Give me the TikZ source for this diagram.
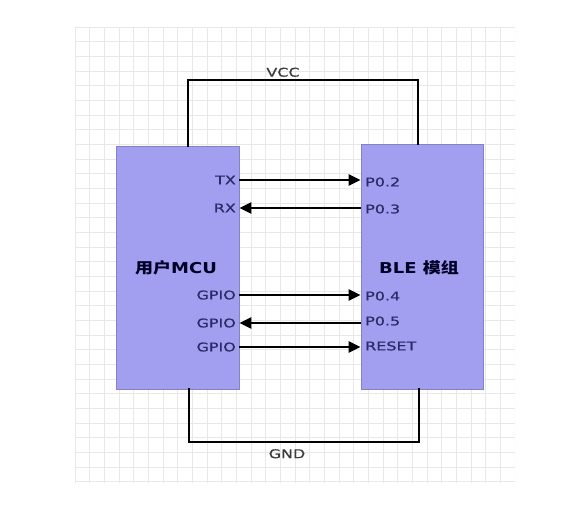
\documentclass[tikz,border=0pt]{standalone}
\usepackage{fontspec}
\setmainfont{DejaVu Sans}[FakeStretch=1.33]
\newfontfamily\pinfont{DejaVu Sans}[FakeStretch=1.33,FakeBold=0.6]
\newfontfamily\titlefont{DejaVu Sans}[FakeStretch=1.2]
\newfontfamily\cjk{Noto Sans CJK SC}[FakeStretch=1.2]
\usetikzlibrary{arrows.meta}
\definecolor{boxfill}{HTML}{A29EF0}
\definecolor{boxline}{HTML}{8282C4}
\definecolor{pintext}{HTML}{2A2A66}
\definecolor{gridc}{HTML}{E8E8E8}
\definecolor{pwrtext}{HTML}{3C3C3C}
\tikzset{
  chip/.style={draw=boxline, line width=0.8pt, fill=boxfill, inner sep=0pt},
  pinlab/.style={font=\pinfont\fontsize{12}{14}\selectfont, text=pintext, inner sep=1pt},
  sig/.style={line width=2.6pt, -{Triangle[length=12pt,width=11pt]}},
  pwr/.style={line width=2.8pt, line cap=rect},
  pwrlab/.style={font=\pinfont\fontsize{12}{14}\selectfont, text=pwrtext, inner sep=1pt},
  title/.style={font=\titlefont\bfseries\fontsize{15}{18}\selectfont, text=black!85!blue, inner sep=0pt}
}
\begin{document}
\begin{tikzpicture}[x=1pt,y=-1pt]
\useasboundingbox (0,0) rectangle (580,511);
\fill[white] (0,0) rectangle (580,511);
% grid
\begin{scope}
\clip (75,27) rectangle (515,483);
\foreach \i in {0,...,30} {
  \draw[gridc, line width=0.7pt] (75+\i*14.667,27) -- (75+\i*14.667,483);
}
\foreach \j in {0,...,31} {
  \draw[gridc, line width=0.7pt] (75,27+\j*14.667) -- (515,27+\j*14.667);
}
\end{scope}
% boxes
\node[chip, minimum width=123pt, minimum height=243pt] (mcu) at (177.5,267.5) {};
\node[chip, minimum width=122pt, minimum height=245pt] (ble) at (422,266.5) {};
% titles
\node[title] (mcut) at (176,268) {{\cjk\bfseries 用户}MCU};
\node[title] (blet) at (419,268) {BLE {\cjk\bfseries 模组}};
% power
\draw[pwr] (mcu.north -| 188,0) -- (188,80) -- (418,80) -- (ble.north -| 418,0);
\node[pwrlab, anchor=south] (vcc) at (283,78) {VCC};
\draw[pwr] (mcu.south -| 189,0) -- (189,442) -- (419,442) -- (ble.south -| 419,0);
\node[pwrlab, anchor=north] (gnd) at (287,448) {GND};
% pin labels left
\node[pinlab, anchor=east] (tx) at (237,180) {TX};
\node[pinlab, anchor=east] (rx) at (237,208) {RX};
\node[pinlab, anchor=east] (g1) at (237,295) {GPIO};
\node[pinlab, anchor=east] (g2) at (237,323) {GPIO};
\node[pinlab, anchor=east] (g3) at (237,347) {GPIO};
% pin labels right
\node[pinlab, anchor=west] (p02) at (364,182) {P0.2};
\node[pinlab, anchor=west] (p03) at (364,209) {P0.3};
\node[pinlab, anchor=west] (p04) at (364,296) {P0.4};
\node[pinlab, anchor=west] (p05) at (364,321) {P0.5};
\node[pinlab, anchor=west] (rst) at (364,346) {RESET};
% signals
\draw[sig] (mcu.east |- tx) -- (ble.west |- tx);
\draw[sig] (ble.west |- rx) -- (mcu.east |- rx);
\draw[sig] (mcu.east |- g1) -- (ble.west |- g1);
\draw[sig] (ble.west |- g2) -- (mcu.east |- g2);
\draw[sig] (mcu.east |- g3) -- (ble.west |- g3);
\end{tikzpicture}
\end{document}
